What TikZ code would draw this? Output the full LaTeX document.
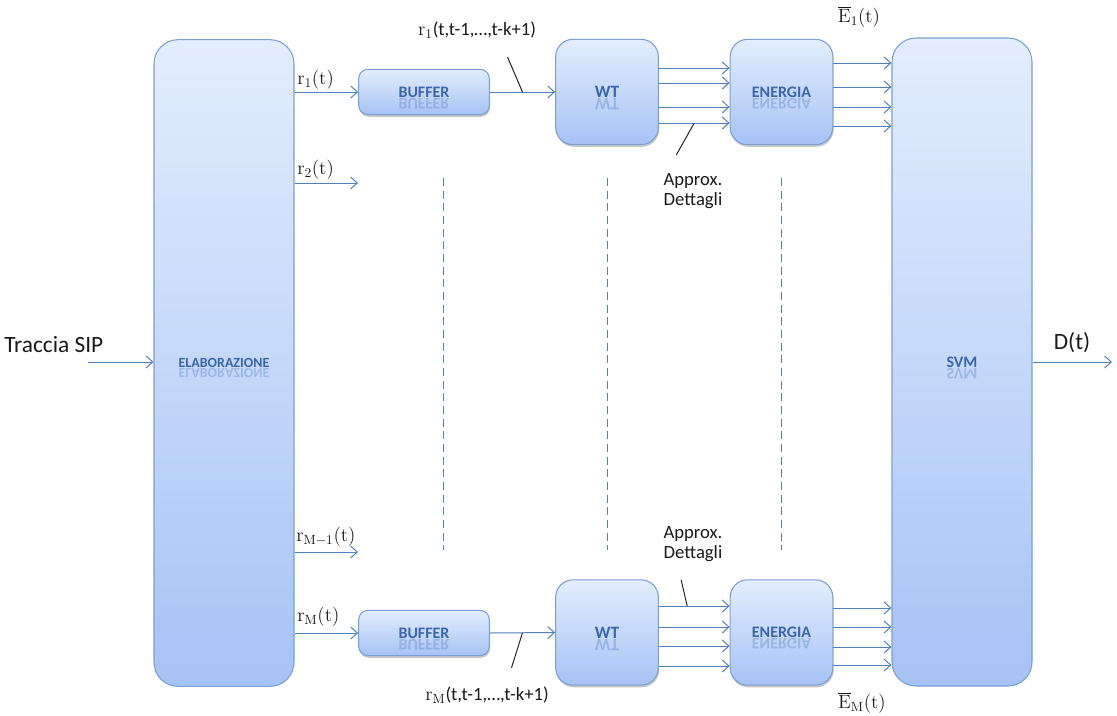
\documentclass[tikz,border=0pt]{standalone}
\usepackage[no-math]{fontspec}
\setmainfont{Carlito}
\usetikzlibrary{arrows.meta,shadows,calc}

\definecolor{linec}{HTML}{4F81BD}
\definecolor{boxtop}{HTML}{E3EDFD}
\definecolor{boxbot}{HTML}{A6C3F5}
\definecolor{boxedge}{HTML}{7C9ED6}
\definecolor{lblc}{HTML}{3B66AD}
\definecolor{txtc}{HTML}{1A1A1A}

\tikzset{
  blk/.style={draw=boxedge, line width=0.8pt, top color=boxtop, bottom color=boxbot,
              inner sep=0pt},
  bigblk/.style={blk, rounded corners=18pt, minimum width=105pt, minimum height=485pt},
  shadowed/.style={drop shadow={shadow xshift=0.6pt, shadow yshift=-1.6pt,
              opacity=0.22, fill=black}},
  bufblk/.style={blk, shadowed, rounded corners=7pt, minimum width=98pt, minimum height=34pt},
  midblk/.style={blk, shadowed, rounded corners=13pt, minimum width=77pt, minimum height=79pt},
  arr/.style={draw=linec, line width=0.75pt, -{Straight Barb[length=5pt,width=9pt]}},
  slash/.style={draw=black!85, line width=0.75pt},
  guide/.style={draw=linec, line width=0.75pt, dash pattern=on 6pt off 3.5pt},
  lbl/.style={text=lblc, inner sep=0pt, font=\bfseries\fontsize{12}{12}\selectfont},
  txt/.style={text=txtc, inner sep=0pt, font=\fontsize{14}{17}\selectfont, align=center},
  bigtxt/.style={text=txtc, inner sep=0pt, font=\fontsize{17.5}{20}\selectfont},
}

% block title with a faded mirror image under its baseline
\newcommand\blocktitle[3][12]{%
  \node[lbl, font=\bfseries\fontsize{#1}{#1}\selectfont, anchor=base] (#2-t)
    at ($(#2.center)+(0,-0.33*#1 pt)$) {#3};
  \node[lbl, font=\bfseries\fontsize{#1}{#1}\selectfont, anchor=base, yscale=-1,
        opacity=0.28] (#2-r) at ($(#2.center)+(0,-0.33*#1 pt - 0.6pt)$) {#3};
}

\begin{document}
\begin{tikzpicture}[x=0.75pt, y=-0.75pt]
\useasboundingbox (0,0) rectangle (1117,715);

% ---- blocks
\node[bigblk] (elab) at (224,363) {};
\node[bigblk, minimum height=486pt] (svm) at (962,362) {};
\node[bufblk] (buf1) at (424,92) {};
\node[midblk] (wt1) at (607,92) {};
\node[midblk] (en1) at (781.5,92) {};
\node[bufblk] (buf2) at (424,633) {};
\node[midblk] (wt2) at (607,632.5) {};
\node[midblk] (en2) at (781.5,632.5) {};

\blocktitle[10.5]{elab}{ELABORAZIONE}
\blocktitle[12]{svm}{SVM}
\blocktitle[12]{buf1}{BUFFER}
\blocktitle[12]{buf2}{BUFFER}
\blocktitle[13]{wt1}{WT}
\blocktitle[13]{wt2}{WT}
\blocktitle[12]{en1}{ENERGIA}
\blocktitle[12]{en2}{ENERGIA}

% ---- input and output
\coordinate (src) at (88,362);
\coordinate (dst) at (1112,362);
\node[bigtxt, anchor=west] (tin) at (4,345) {Traccia SIP};
\draw[arr] (src) -- (src -| elab.west);
\node[bigtxt] (dout) at (1072,343) {D(t)};
\draw[arr] (svm.east |- dst) -- (dst);

% ---- outputs of the pre-processing block
\coordinate (r2end) at (358,183);
\coordinate (rm1end) at (358,552);
\draw[arr] (elab.east |- buf1) -- (buf1.west);
\draw[arr] (elab.east |- r2end) -- (r2end);
\draw[arr] (elab.east |- rm1end) -- (rm1end);
\draw[arr] (elab.east |- buf2) -- (buf2.west);

\node[txt, anchor=west] (lr1) at (297,80) {$\mathrm{r_1(t)}$};
\node[txt, anchor=west] (lr2) at (297,170) {$\mathrm{r_2(t)}$};
\node[txt, anchor=west] (lrm1) at (296,537) {$\mathrm{r_{M-1}(t)}$};
\node[txt, anchor=west] (lrm) at (297,617) {$\mathrm{r_M(t)}$};

% ---- buffer to wavelet transform
\draw[arr] (buf1.east) -- (wt1.west);
\draw[arr] (buf2.east) -- (wt2.west);
\coordinate (s1) at ($(buf1.east)!0.5!(wt1.west)$);
\coordinate (s2) at ($(buf2.east)!0.5!(wt2.west)$);
\draw[slash] (s1) -- ++(-15,-35);
\draw[slash] (s2) -- ++(-11,35);
\node[txt] (lw1) at (477,30) {$\mathrm{r}_1$(t,t-1,…,t-k+1)};
\node[txt] (lw2) at (487,695) {$\mathrm{r}_{\mathrm{M}}$(t,t-1,…,t-k+1)};

% ---- wavelet coefficients to energy
\foreach \yy in {68,83,107,123} \draw[arr] (wt1.east |- 0,\yy) -- (en1.west |- 0,\yy);
\foreach \yy in {606,627,646,666} \draw[arr] (wt2.east |- 0,\yy) -- (en2.west |- 0,\yy);
\coordinate (a1) at ($(wt1.east |- 0,123)!0.5!(en1.west |- 0,123)$);
\coordinate (a2) at ($(wt2.east |- 0,606)!0.4!(en2.west |- 0,606)$);
\draw[slash] (a1) -- ++(-18,32);
\draw[slash] (a2) -- ++(-6,-26);
\node[txt] (ad1) at (693,191) {Approx.\\[-2pt]Dettagli};
\node[txt] (ad2) at (693,544) {Approx.\\[-2pt]Dettagli};

% ---- energies to the classifier
\foreach \yy in {63,87,107,126} \draw[arr] (en1.east |- 0,\yy) -- (svm.west |- 0,\yy);
\foreach \yy in {608,627,647,665} \draw[arr] (en2.east |- 0,\yy) -- (svm.west |- 0,\yy);
\node[txt] (le1) at (859,17) {$\overline{\mathrm{E}}_{1}\mathrm{(t)}$};
\node[txt] (lem) at (862,703) {$\overline{\mathrm{E}}_{\mathrm{M}}\mathrm{(t)}$};

% ---- omitted channels
\draw[guide] (443,178) -- (443,550);
\draw[guide] (wt1.center |- 0,178) -- (wt1.center |- 0,550);
\draw[guide] (en1.center |- 0,178) -- (en1.center |- 0,550);
\end{tikzpicture}
\end{document}
